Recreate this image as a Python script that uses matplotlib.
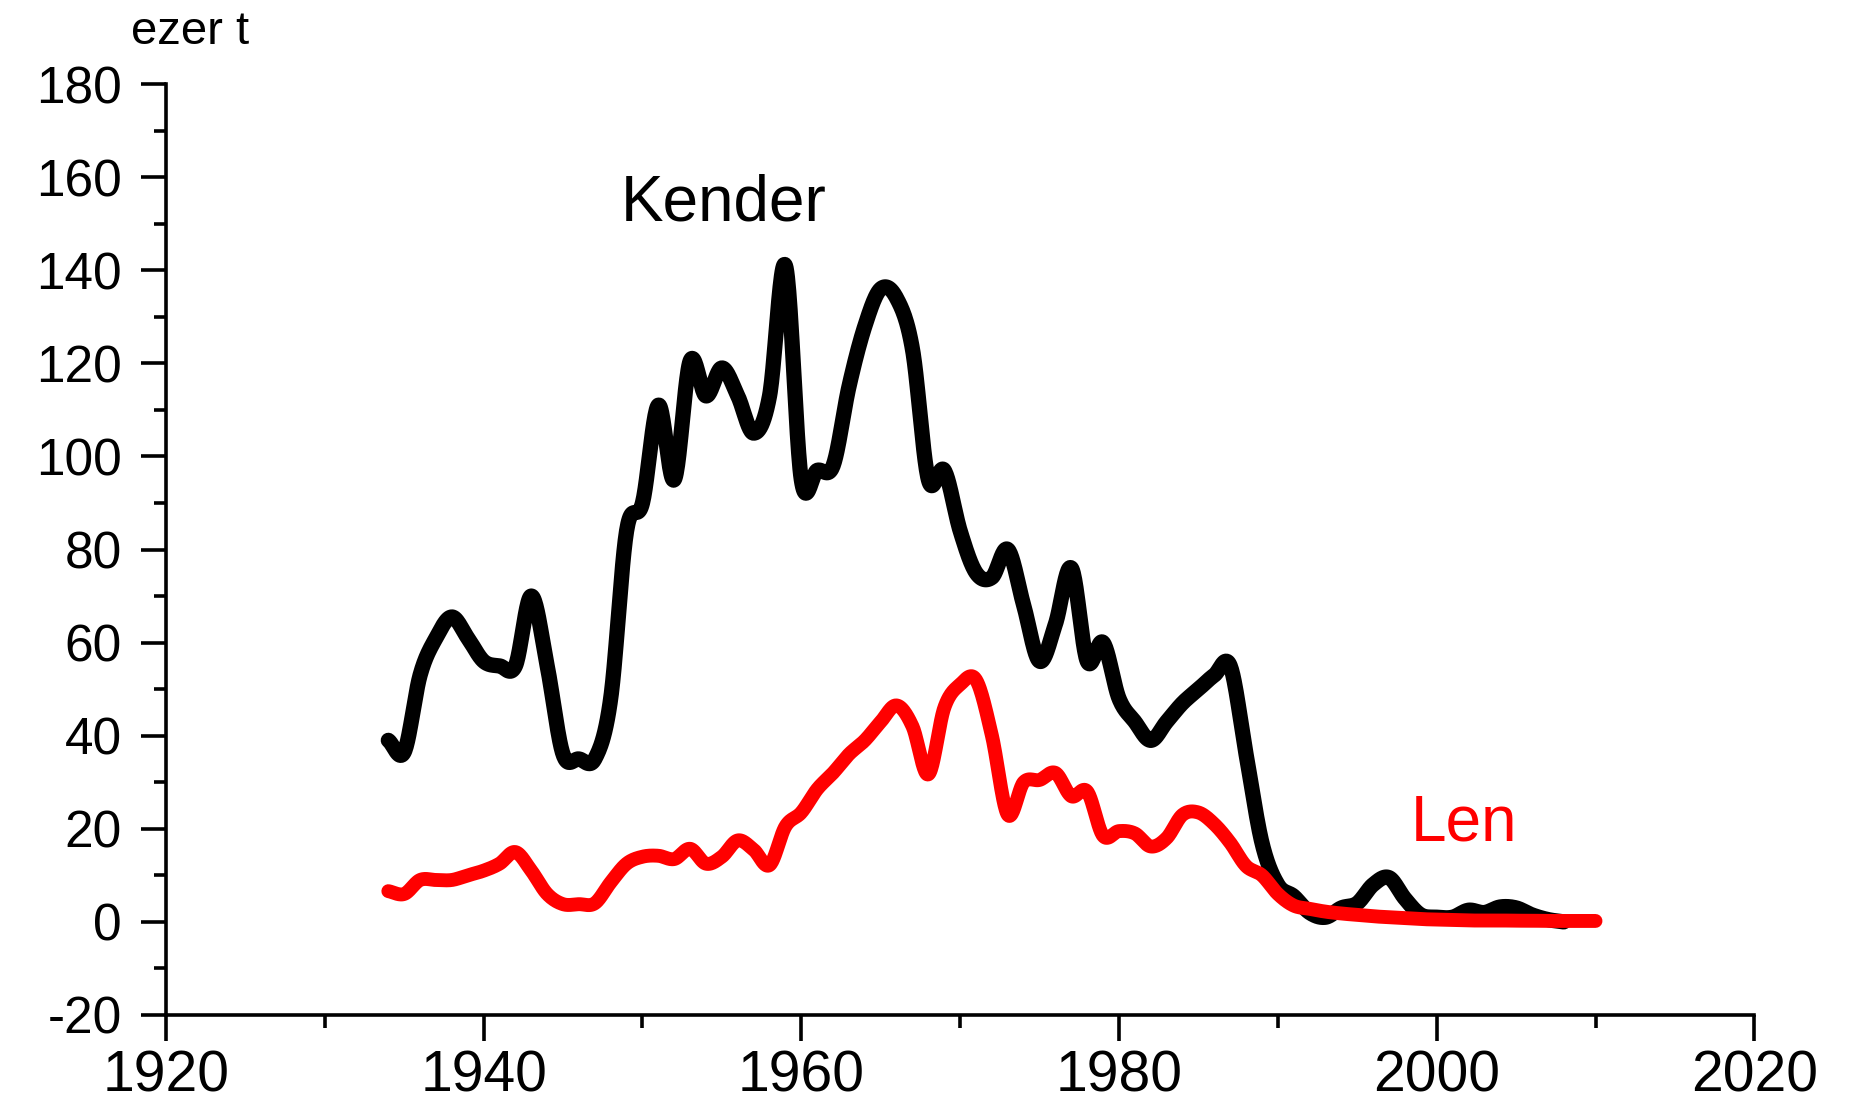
import numpy as np
import matplotlib
matplotlib.use("Agg")
import matplotlib.pyplot as plt
from matplotlib.ticker import MultipleLocator

plt.rcParams['font.family'] = ['Liberation Sans', 'DejaVu Sans']
plt.rcParams['axes.unicode_minus'] = False

# ---- data (ezer t) ----
kender_years = list(range(1934, 2009))
kender = [39, 36.5, 53, 61, 65.5, 61, 56, 55, 55, 70,
          55, 36, 35, 35, 48, 84, 90, 111, 95, 120.5,
          113, 119, 113, 105, 113, 141, 95, 97, 98, 115,
          128, 136, 134, 123, 95, 97, 84, 75, 74, 80,
          68, 56, 64, 76, 56, 60, 48, 43, 39, 43,
          47, 50, 53, 55, 36, 17, 8, 5.5, 2, 1,
          3, 4, 8, 9.5, 5, 1.5, 1, 1, 2.5, 2,
          3.2, 3, 1.5, 0.5, 0]

len_years = list(range(1934, 2011))
len_vals = [6.6, 6, 9, 9, 9, 10, 11, 12.5, 15, 11,
            6, 3.8, 3.8, 4, 8.5, 12.5, 14, 14.2, 13.5, 15.7,
            12.5, 14, 17.5, 15.5, 12.2, 20.5, 23.5, 28.5, 32, 36,
            39, 43, 46.5, 42, 31.7, 46, 51, 52, 40, 23,
            30, 30.5, 32, 27, 28, 18.5, 19.5, 19, 16.2, 18,
            23, 23.5, 21, 17, 12, 10, 6, 3.5, 2.8, 2.2,
            1.8, 1.5, 1.2, 1.0, 0.8, 0.6, 0.5, 0.4, 0.3, 0.3,
            0.3, 0.25, 0.25, 0.2, 0.2, 0.2, 0.2]

series_labels = ["Kender", "Len"]
unit_label = "ezer t"


def smooth(x, y, n=24):
    """Catmull-Rom style smoothing (like a spreadsheet 'smoothed line')."""
    x = np.asarray(x, float)
    y = np.asarray(y, float)
    P = np.column_stack([x, y])
    P = np.vstack([P[0] * 2 - P[1], P, P[-1] * 2 - P[-2]])
    out = []
    t = np.linspace(0, 1, n, endpoint=False)[:, None]
    for i in range(1, len(P) - 2):
        p0, p1, p2, p3 = P[i - 1], P[i], P[i + 1], P[i + 2]
        c1 = p1 + (p2 - p0) / 6.0
        c2 = p2 - (p3 - p1) / 6.0
        seg = ((1 - t) ** 3) * p1 + 3 * ((1 - t) ** 2) * t * c1 + 3 * (1 - t) * t ** 2 * c2 + t ** 3 * p2
        out.append(seg)
    out.append(P[-2][None, :])
    out = np.vstack(out)
    return out[:, 0], out[:, 1]


fig = plt.figure(figsize=(18.5, 11), dpi=100)
ax = fig.add_axes([0.0897, 0.0773, 0.9483 - 0.0897, 0.9236 - 0.0773])

kx, ky = smooth(kender_years, kender)
lx, ly = smooth(len_years, len_vals)
ax.plot(kx, ky, color='black', lw=11, solid_capstyle='round', solid_joinstyle='round', zorder=3)
ax.plot(lx, ly, color='#ff0000', lw=10, solid_capstyle='round', solid_joinstyle='round', zorder=4)

ax.set_xlim(1920, 2020)
ax.set_ylim(-20, 180)

for s in ['top', 'right']:
    ax.spines[s].set_visible(False)
for s in ['left', 'bottom']:
    ax.spines[s].set_linewidth(2.6)

ax.xaxis.set_major_locator(MultipleLocator(20))
ax.xaxis.set_minor_locator(MultipleLocator(10))
ax.yaxis.set_major_locator(MultipleLocator(20))
ax.yaxis.set_minor_locator(MultipleLocator(10))

ax.tick_params(axis='both', which='major', direction='out', width=2.6, color='black')
ax.tick_params(axis='both', which='minor', direction='out', width=2.6, color='black')
ax.tick_params(axis='y', which='major', length=18, pad=14, labelsize=37)
ax.tick_params(axis='y', which='minor', length=8.5)
ax.tick_params(axis='x', which='major', length=19, pad=6, labelsize=41)
ax.tick_params(axis='x', which='minor', length=9)

ax.text(1955.1, 150.6, series_labels[0], fontsize=46, color='black', ha='center', va='baseline')
ax.text(2001.7, 17.5, series_labels[1], fontsize=46, color='#ff0000', ha='center', va='baseline')
fig.text(190 / 1850, 1 - 44 / 1100, unit_label, fontsize=34, ha='center', va='baseline')

fig.savefig("out.png", dpi=100, facecolor='white')
